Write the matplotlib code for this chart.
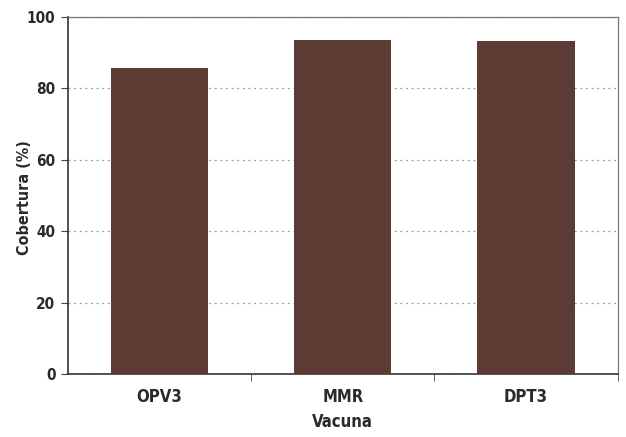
import matplotlib.pyplot as plt
import numpy as np

# data
vacunas = ['OPV3', 'MMR', 'DPT3']
cobertura = [85.7, 93.5, 93.3]

plt.rcParams['font.family'] = ['DejaVu Sans']
plt.rcParams['font.stretch'] = 'condensed'
plt.rcParams['font.weight'] = 'bold'
plt.rcParams['axes.labelweight'] = 'bold'

fig = plt.figure(figsize=(6.26, 4.37), dpi=100)
ax = fig.add_axes([0.1086, 0.144, 0.878, 0.817])

x = np.arange(len(vacunas))
ax.bar(x, cobertura, width=0.53, color='#5b3b34', zorder=3)

ax.set_xlim(-0.5, len(vacunas) - 0.5)
ax.set_ylim(0, 100)
ax.set_yticks([0, 20, 40, 60, 80, 100])
ax.yaxis.grid(True, linestyle=(0, (1.5, 3)), color='#9a9a9a', linewidth=0.9, zorder=0)

# category labels centred, tick marks between categories
ax.set_xticks(x)
ax.set_xticklabels(vacunas, fontsize=12)
ax.tick_params(axis='x', length=0, pad=10, labelcolor='#2a2a2a')
ax.set_xticks(np.arange(0.5, len(vacunas)), minor=True)
ax.tick_params(axis='x', which='minor', length=5, color='#444444')
ax.tick_params(axis='y', labelsize=11, length=5, pad=4, color='#444444', labelcolor='#2a2a2a')

for s in ['left', 'bottom']:
    ax.spines[s].set_color('#333333')
    ax.spines[s].set_linewidth(1.2)
for s in ['top', 'right']:
    ax.spines[s].set_color('#777777')
    ax.spines[s].set_linewidth(0.9)

ax.set_xlabel('Vacuna', fontsize=12, color='#2a2a2a')
ax.set_ylabel('Cobertura (%)', fontsize=11.5, color='#2a2a2a')
ax.xaxis.set_label_coords(0.5, -0.11)
ax.yaxis.set_label_coords(-0.066, 0.495)

plt.savefig('out.png', dpi=100)
